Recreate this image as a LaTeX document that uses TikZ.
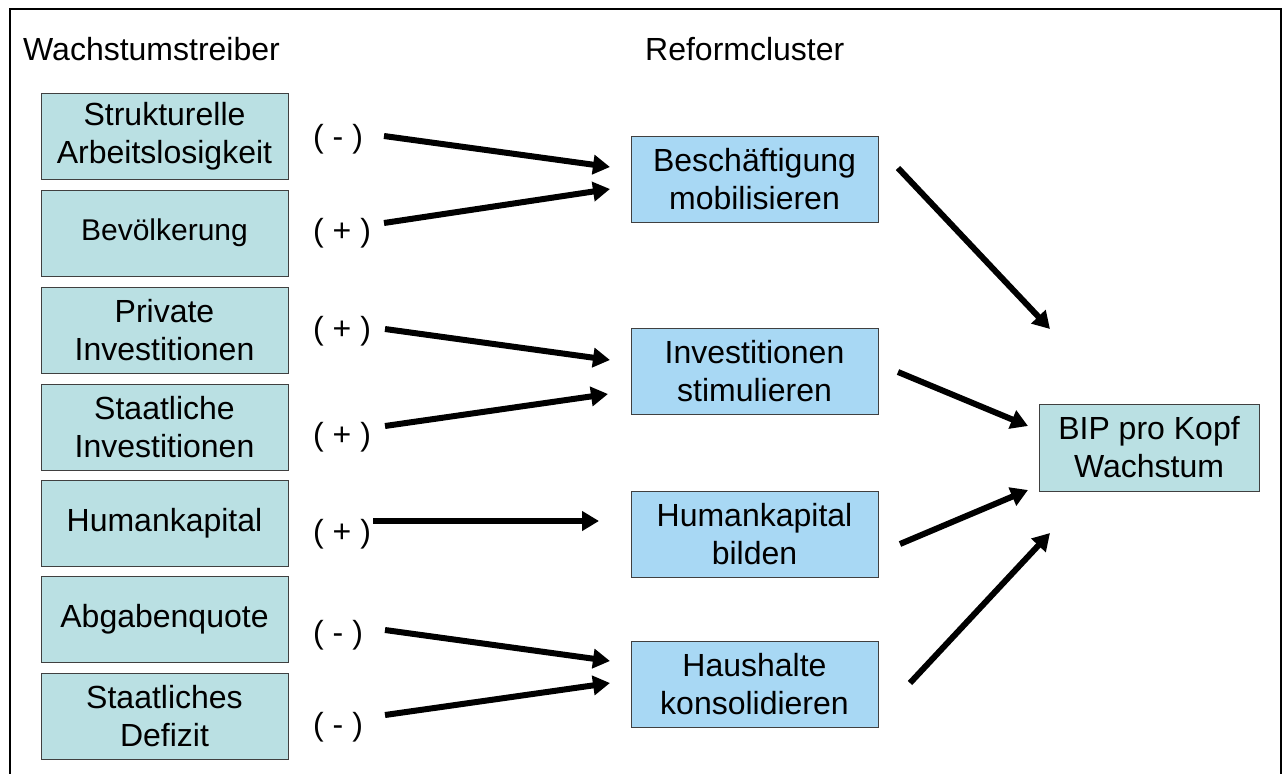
\documentclass[tikz,border=0pt]{standalone}
\usepackage{fontspec}
\setmainfont{Liberation Sans}
\usetikzlibrary{arrows.meta}
\definecolor{tealfill}{RGB}{186,224,227}
\definecolor{bluefill}{RGB}{168,216,244}
\begin{document}
\begin{tikzpicture}[x=1pt,y=-1pt,
  box/.style={draw=black!75, line width=0.8pt, minimum width=247pt, minimum height=86pt, inner sep=0pt, align=center, font=\fontsize{32}{38}\selectfont},
  drv/.style={box, fill=tealfill},
  refbox/.style={box, fill=bluefill},
  sign/.style={font=\fontsize{32}{38}\selectfont, inner sep=0pt, anchor=west},
  hdr/.style={font=\fontsize{32}{38}\selectfont, inner sep=0pt, anchor=base west},
  arr/.style={line width=6pt, -{Triangle[length=17pt,width=19pt]}}]
\useasboundingbox (0,0) rectangle (1283,774);
% frame
\draw[line width=2.5pt] (10,790) -- (10,9) -- (1281,9) -- (1281,790);
% headers
\node[hdr] (h1) at (23,60) {Wachstumstreiber};
\node[hdr] (h2) at (645,60) {Reformcluster};
% drivers
\node[drv] (d1) at (164.5,136) {Strukturelle\\Arbeitslosigkeit};
\node[drv, font=\fontsize{30}{36}\selectfont] (d2) at (164.5,233) {Bevölkerung};
\node[drv] (d3) at (164.5,330) {Private\\Investitionen};
\node[drv] (d4) at (164.5,427) {Staatliche\\Investitionen};
\node[drv] (d5) at (164.5,523) {Humankapital};
\node[drv] (d6) at (164.5,619) {Abgabenquote};
\node[drv] (d7) at (164.5,716) {Staatliches\\Defizit};
% signs
\node[sign] (g1) at (313,139) {( - )};
\node[sign] (g2) at (313,233) {( + )};
\node[sign] (g3) at (313,331) {( + )};
\node[sign] (g4) at (313,437) {( + )};
\node[sign] (g5) at (313,534) {( + )};
\node[sign] (g6) at (313,635) {( - )};
\node[sign] (g7) at (313,727) {( - )};
% reform clusters
\node[refbox] (r1) at (754.5,179) {Beschäftigung\\mobilisieren};
\node[refbox] (r2) at (754.5,371.5) {Investitionen\\stimulieren};
\node[refbox] (r3) at (754.5,534) {Humankapital\\bilden};
\node[refbox] (r4) at (754.5,684) {Haushalte\\konsolidieren};
% target
\node[drv, minimum width=220pt, minimum height=87pt] (bip) at (1149,447.5) {BIP pro Kopf\\Wachstum};
% arrow end points
\coordinate (s1) at (384,136); \coordinate (t1) at (610,167);
\coordinate (s2) at (384,223); \coordinate (t2) at (610,189);
\coordinate (s3) at (385,329); \coordinate (t3) at (610,360);
\coordinate (s4) at (385,426); \coordinate (t4) at (608,394);
\coordinate (s5) at (373,521); \coordinate (t5) at (599,521);
\coordinate (s6) at (385,630); \coordinate (t6) at (610,661);
\coordinate (s7) at (385,715); \coordinate (t7) at (610,683);
\coordinate (u1) at (898,168); \coordinate (v1) at (1050,329);
\coordinate (u2) at (898,372); \coordinate (v2) at (1028,426);
\coordinate (u3) at (900,544); \coordinate (v3) at (1028,490);
\coordinate (u4) at (910,683); \coordinate (v4) at (1050,533);
\foreach \i in {1,...,7} {\draw[arr] (s\i) -- (t\i);}
\foreach \i in {1,...,4} {\draw[arr] (u\i) -- (v\i);}
\end{tikzpicture}
\end{document}
